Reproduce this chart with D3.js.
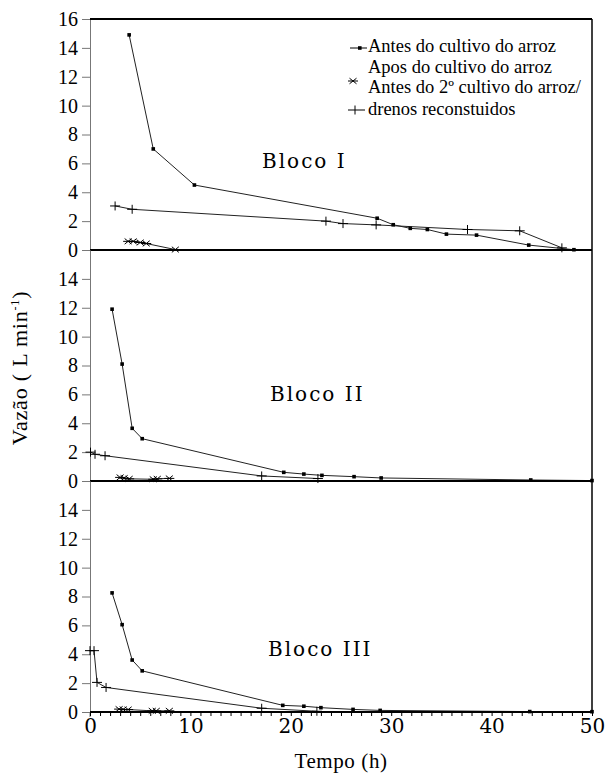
<!DOCTYPE html>
<html>
<head>
<meta charset="utf-8">
<script src="https://cdn.jsdelivr.net/npm/d3@7"></script>
<style>
  #chart text { font-family: "Liberation Serif" !important; }
  #chart text.wide { font-family: "DejaVu Serif" !important; }
</style>
</head>
<body style="margin:0">
<svg id="chart" width="605" height="774" font-family="Liberation Serif"></svg>
<script>
// Tempo (h), vazão (L/min)
const antesI = [[3.9,14.9],[6.3,7.0],[10.4,4.5],[28.6,2.2],[30.2,1.75],[31.9,1.5],[33.6,1.42],[35.5,1.1],[38.5,1.03],[43.7,0.34],[48.2,0.02]];
const aposI = [[3.8,0.6],[4.3,0.6],[5.0,0.52],[5.6,0.45],[8.5,0.03]];
const drenosI = [[2.5,3.05],[4.2,2.82],[23.5,2.0],[25.2,1.83],[28.5,1.74],[37.6,1.42],[42.8,1.33],[47.0,0.15]];

const antesII = [[2.2,11.9],[3.2,8.1],[4.2,3.65],[5.2,2.93],[19.3,0.6],[21.3,0.48],[23.1,0.39],[26.3,0.3],[29.0,0.21],[43.9,0.07],[50,0.03]];
const aposII = [[3.0,0.25],[3.4,0.2],[3.9,0.15],[6.3,0.12],[6.7,0.15],[7.9,0.18]];
const drenosII = [[0.05,2.0],[0.5,1.85],[1.5,1.75],[17.1,0.35],[22.7,0.17]];

const antesIII = [[2.2,8.25],[3.2,6.05],[4.2,3.6],[5.2,2.85],[19.2,0.46],[21.3,0.4],[23.0,0.3],[26.2,0.18],[28.9,0.11],[43.8,0.03],[50,0.02]];
const aposIII = [[2.9,0.2],[3.3,0.18],[3.8,0.17],[6.2,0.08],[6.6,0.08],[7.9,0.08]];
const drenosIII = [[0,4.25],[0.4,4.25],[0.7,2.05],[1.6,1.7],[17.1,0.26],[22.6,0.05]];

const blocos = ["Bloco I", "Bloco II", "Bloco III"];
const legendLabels = ["Antes do cultivo do arroz", "Apos do cultivo do arroz", "Antes do 2º cultivo do arroz/", "drenos reconstuidos"];
const yTicksTop = [0, 2, 4, 6, 8, 10, 12, 14, 16];
const yTicks = [0, 2, 4, 6, 8, 10, 12, 14];
const xTicks = [0, 10, 20, 30, 40, 50];

const svg = d3.select("#chart");

// one family name per text, set as attribute and as style
function serifText(sel, size, fam) {
  const f = fam || "Liberation Serif";
  return sel
    .attr("font-family", f)
    .style("font-family", `"${f}"`)
    .classed("wide", f === "DejaVu Serif")
    .attr("font-size", size);
}

const left = 90, right = 592;
const panelTops = [19, 250, 481];
const panelH = 231;

const x = d3.scaleLinear().domain([0, 50]).range([left, right]);

const panels = [
  { name: blocos[0], antes: antesI, apos: aposI, drenos: drenosI, ticks: yTicksTop, lab: [262, 168] },
  { name: blocos[1], antes: antesII, apos: aposII, drenos: drenosII, ticks: yTicks, lab: [270, 401] },
  { name: blocos[2], antes: antesIII, apos: aposIII, drenos: drenosIII, ticks: yTicks, lab: [268, 656] }
];

const asteriskPath = "M-5,0H5M-3.5,-2.8L3.5,2.8M-3.5,2.8L3.5,-2.8";
const plusPath = "M-5,0H5M0,-4.5V4.5";

panels.forEach((p, i) => {
  const top = panelTops[i];
  const y = d3.scaleLinear().domain([0, 16]).range([top + panelH, top]);
  const g = svg.append("g");

  // y axis (grey, outward ticks)
  const ax = g.append("g")
    .attr("transform", `translate(${left},0)`)
    .call(d3.axisLeft(y).tickValues(p.ticks).tickSize(8).tickPadding(4).tickSizeOuter(0));
  ax.attr("font-family", "Liberation Serif").attr("font-size", 20);
  ax.select(".domain").attr("stroke", "#777");
  ax.selectAll(".tick line").attr("stroke", "#777");
  serifText(ax.selectAll("text"), 20).attr("fill", "#000");

  const line = d3.line().x(d => x(d[0])).y(d => y(d[1]));

  [p.antes, p.apos, p.drenos].forEach(s => {
    g.append("path")
      .datum(s)
      .attr("fill", "none")
      .attr("stroke", "#222")
      .attr("stroke-width", 1)
      .attr("d", line);
  });

  g.selectAll(".sq").data(p.antes).join("rect")
    .attr("x", d => x(d[0]) - 1.8)
    .attr("y", d => y(d[1]) - 1.8)
    .attr("width", 3.6)
    .attr("height", 3.6)
    .attr("fill", "#000");

  g.selectAll(".ast").data(p.apos).join("path")
    .attr("transform", d => `translate(${x(d[0])},${y(d[1])})`)
    .attr("d", asteriskPath)
    .attr("stroke", "#000")
    .attr("stroke-width", 1)
    .attr("fill", "none");

  g.selectAll(".pl").data(p.drenos).join("path")
    .attr("transform", d => `translate(${x(d[0])},${y(d[1])})`)
    .attr("d", plusPath)
    .attr("stroke", "#000")
    .attr("stroke-width", 1)
    .attr("fill", "none");

  // zero line of each panel
  g.append("line")
    .attr("x1", left).attr("x2", right)
    .attr("y1", y(0)).attr("y2", y(0))
    .attr("stroke", "#000")
    .attr("stroke-width", 1.8);

  serifText(svg.append("text"), 20, "DejaVu Serif")
    .attr("x", p.lab[0])
    .attr("y", p.lab[1])
    .attr("letter-spacing", 2)
    .text(p.name);
});

// frame: top and right border
svg.append("line")
  .attr("x1", left).attr("x2", right)
  .attr("y1", panelTops[0]).attr("y2", panelTops[0])
  .attr("stroke", "#000").attr("stroke-width", 2);
svg.append("line")
  .attr("x1", right).attr("x2", right)
  .attr("y1", panelTops[0]).attr("y2", panelTops[2] + panelH)
  .attr("stroke", "#000").attr("stroke-width", 1.5);
svg.append("line")
  .attr("x1", left).attr("x2", left)
  .attr("y1", panelTops[2] + panelH).attr("y2", panelTops[2] + panelH + 5)
  .attr("stroke", "#777");

// bottom x axis, minor tick every hour
const xa = svg.append("g")
  .attr("transform", `translate(0,${panelTops[2] + panelH})`)
  .call(d3.axisBottom(x)
    .tickValues(d3.range(0, 51, 1))
    .tickSize(4)
    .tickPadding(3)
    .tickSizeOuter(0)
    .tickFormat(d => xTicks.includes(d) ? d : ""));
xa.attr("font-family", "DejaVu Serif").attr("font-size", 20);
xa.select(".domain").remove();
xa.selectAll(".tick line").attr("stroke", "#000");
serifText(xa.selectAll("text"), 20, "DejaVu Serif").attr("fill", "#000");

// axis titles
serifText(svg.append("text"), 21)
  .attr("x", 341)
  .attr("y", 768)
  .attr("text-anchor", "middle")
  .attr("letter-spacing", 0.6)
  .text("Tempo (h)");

const yl = serifText(svg.append("text"), 22)
  .attr("transform", "translate(27,368) rotate(-90)")
  .attr("text-anchor", "middle")
  .attr("letter-spacing", 0.8);
yl.append("tspan").text("Vazão ( L min");
yl.append("tspan").attr("font-size", 12).attr("dy", "-8").text("-1");
yl.append("tspan").attr("dy", "8").text(")");

// legend
const legY = [52, 72.5, 93, 115];
legendLabels.forEach((t, i) => {
  serifText(svg.append("text"), 18.5)
    .attr("x", 368)
    .attr("y", legY[i])
    .text(t);
});
const lg = svg.append("g");
lg.append("line")
  .attr("x1", 350).attr("x2", 367)
  .attr("y1", 48).attr("y2", 48)
  .attr("stroke", "#000");
lg.append("rect")
  .attr("x", 358).attr("y", 46.2)
  .attr("width", 3.6).attr("height", 3.6)
  .attr("fill", "#000");
lg.append("path")
  .attr("transform", "translate(353,81)")
  .attr("d", asteriskPath)
  .attr("stroke", "#000")
  .attr("fill", "none");
lg.append("path")
  .attr("transform", "translate(355,110)")
  .attr("d", "M-7,0H10M0,-4.5V4.5")
  .attr("stroke", "#000")
  .attr("fill", "none");
</script>
</body>
</html>
